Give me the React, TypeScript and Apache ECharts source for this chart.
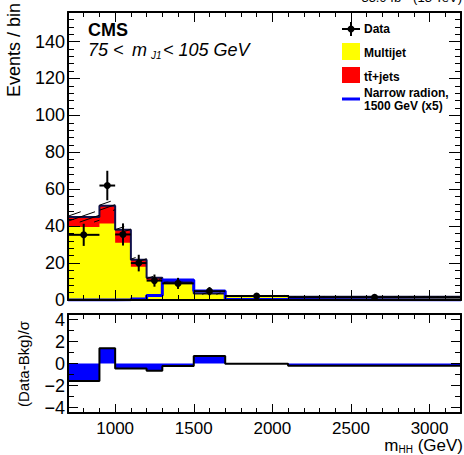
import React, { useEffect, useRef } from "react";
import * as echarts from "echarts";

const binEdges = [700, 900, 1000, 1100, 1200, 1300, 1500, 1700, 2100, 3200];
const multijet = [39.5, 41.5, 31, 18, 10.8, 9.2, 3.3, 2.0, 1.6];
const ttbar = [5.5, 9.5, 7, 3.8, 1.2, 0.5, 0.2, 0.2, 0.1];
const bkgUnc = [2.8, 2.5, 1.8, 1.2, 0.8, 0.6, 0.4, 0.3, 0.2];
const signalX5 = [0, 0, 0.1, 0.5, 2.5, 10.8, 4.9, 0.3, 0.05];
const dataCenters = [800, 950, 1050, 1150, 1250, 1400, 1600, 1900, 2650];
const dataCounts = [35.3, 62, 35.5, 20, 10.5, 9, 4.8, 2.2, 1.45];
const dataErrors = [6, 8, 6, 4.5, 3.3, 3, 2.2, 1.5, 1.2];
const pulls = [-1.6, 1.38, -0.45, -0.45, -0.65, -0.23, 0.68, -0.02, -0.2];

const xTickLabels = [1000, 1500, 2000, 2500, 3000];
const xMinorTicks = [800, 900, 1100, 1200, 1300, 1400, 1600, 1700, 1800, 1900, 2100, 2200, 2300, 2400, 2600, 2700, 2800, 2900, 3100];
const yTickLabels = [0, 20, 40, 60, 80, 100, 120, 140];
const yMinorTicks = [4, 8, 12, 16, 24, 28, 32, 36, 44, 48, 52, 56, 64, 68, 72, 76, 84, 88, 92, 96, 104, 108, 112, 116, 124, 128, 132, 136, 144, 148, 152];
const pullTickLabels = [-4, -2, 0, 2, 4];
const pullMinorTicks = [-3, -1, 1, 3];

const FONT = "Liberation Sans, Arial, Helvetica, sans-serif";

function stepPoints(vals: number[]) {
  const pts = vals.map((v, i) => [binEdges[i], v]);
  pts.push([binEdges[binEdges.length - 1], vals[vals.length - 1]]);
  return pts;
}

const totalBkg = multijet.map((v, i) => v + ttbar[i]);

const plainNum = (v: number) => (v < 0 ? "\u2212" + String(-v) : String(v));

function xAxisDef(gridIndex: number, position: string, ticks: number[], len: number, opts: any = {}) {
  return {
    type: "value",
    gridIndex,
    position,
    min: 700,
    max: 3200,
    z: 10,
    splitLine: { show: false },
    axisLine: { show: !!opts.line, onZero: false, lineStyle: { color: "#000", width: 2 } },
    axisTick: { show: true, inside: true, length: len, customValues: ticks, lineStyle: { color: "#000", width: 1 } },
    axisLabel: opts.labels
      ? { show: true, customValues: opts.labels, color: "#000", fontFamily: FONT, fontSize: 17, margin: 7, formatter: plainNum }
      : { show: false },
  };
}

function yAxisDef(gridIndex: number, position: string, min: number, max: number, ticks: number[], len: number, opts: any = {}) {
  return {
    type: "value",
    gridIndex,
    position,
    min,
    max,
    z: 10,
    splitLine: { show: false },
    axisLine: { show: !!opts.line, onZero: false, lineStyle: { color: "#000", width: 2 } },
    axisTick: { show: true, inside: true, length: len, customValues: ticks, lineStyle: { color: "#000", width: 1 } },
    axisLabel: opts.labels
      ? { show: true, customValues: opts.labels, color: "#000", fontFamily: FONT, fontSize: 18, margin: 3, formatter: plainNum }
      : { show: false },
  };
}

const hatchData = totalBkg.map((t, i) => [binEdges[i], binEdges[i + 1], t - bkgUnc[i], t + bkgUnc[i]]);
const dataRows = dataCenters.map((x, i) => [x, dataCounts[i], binEdges[i], binEdges[i + 1], dataErrors[i]]);

function buildOption(): any {
  return {
    animation: false,
    grid: [
      { left: 68, top: 12, width: 393, height: 288 },
      { left: 68, top: 314, width: 393, height: 99 },
    ],
    xAxis: [
      xAxisDef(0, "bottom", xTickLabels, 10, { line: true }),
      xAxisDef(0, "bottom", xMinorTicks, 5),
      xAxisDef(0, "top", xTickLabels, 10, { line: true }),
      xAxisDef(0, "top", xMinorTicks, 5),
      xAxisDef(1, "bottom", xTickLabels, 9, { line: true, labels: xTickLabels }),
      xAxisDef(1, "bottom", xMinorTicks, 5),
      xAxisDef(1, "top", xTickLabels, 9, { line: true }),
      xAxisDef(1, "top", xMinorTicks, 5),
    ],
    yAxis: [
      yAxisDef(0, "left", 0, 156, yTickLabels, 12, { line: true, labels: yTickLabels }),
      yAxisDef(0, "left", 0, 156, yMinorTicks, 6),
      yAxisDef(0, "right", 0, 156, yTickLabels, 12, { line: true }),
      yAxisDef(0, "right", 0, 156, yMinorTicks, 6),
      yAxisDef(1, "left", -4.5, 4.5, pullTickLabels, 10, { line: true, labels: pullTickLabels }),
      yAxisDef(1, "left", -4.5, 4.5, pullMinorTicks, 6),
      yAxisDef(1, "right", -4.5, 4.5, pullTickLabels, 10, { line: true }),
      yAxisDef(1, "right", -4.5, 4.5, pullMinorTicks, 6),
    ],
    series: [
      {
        name: "ttbar",
        type: "line",
        xAxisIndex: 0,
        yAxisIndex: 0,
        step: "end",
        symbol: "none",
        data: stepPoints(totalBkg),
        lineStyle: { width: 0 },
        areaStyle: { color: "#ff0000", opacity: 1 },
        z: 2,
      },
      {
        name: "Multijet",
        type: "line",
        xAxisIndex: 0,
        yAxisIndex: 0,
        step: "end",
        symbol: "none",
        data: stepPoints(multijet),
        lineStyle: { width: 0 },
        areaStyle: { color: "#ffff00", opacity: 1 },
        z: 3,
      },
      {
        name: "Total",
        type: "line",
        xAxisIndex: 0,
        yAxisIndex: 0,
        step: "end",
        symbol: "none",
        data: stepPoints(totalBkg),
        lineStyle: { width: 2, color: "#10104a" },
        z: 4,
      },
      {
        name: "Uncertainty",
        type: "custom",
        xAxisIndex: 0,
        yAxisIndex: 0,
        clip: true,
        z: 5,
        encode: { x: [0, 1], y: [2, 3] },
        data: hatchData,
        renderItem: (params: any, api: any) => {
          const x0 = api.value(0), x1 = api.value(1), lo = api.value(2), hi = api.value(3);
          const a = api.coord([x0, hi]);
          const b = api.coord([x1, lo]);
          const L = a[0], R = b[0], T = a[1], B = b[1];
          const k = 0.35, s = 5;
          const children: any[] = [];
          const cStart = T + k * L;
          const cEnd = B + k * R;
          for (let c = Math.ceil(cStart / s) * s; c <= cEnd; c += s) {
            const xa = Math.max(L, (c - B) / k);
            const xb = Math.min(R, (c - T) / k);
            if (xb > xa) {
              children.push({
                type: "line",
                shape: { x1: xa, y1: c - k * xa, x2: xb, y2: c - k * xb },
                style: { stroke: "#000", lineWidth: 1 },
              });
            }
          }
          return { type: "group", children };
        },
      },
      {
        name: "Signal",
        type: "line",
        xAxisIndex: 0,
        yAxisIndex: 0,
        step: "end",
        symbol: "none",
        data: stepPoints(signalX5),
        lineStyle: { width: 3, color: "#0000ff" },
        z: 6,
      },
      {
        name: "Data",
        type: "custom",
        xAxisIndex: 0,
        yAxisIndex: 0,
        clip: true,
        z: 8,
        encode: { x: 0, y: 1 },
        data: dataRows,
        renderItem: (params: any, api: any) => {
          const x = api.value(0), y = api.value(1), xl = api.value(2), xh = api.value(3), e = api.value(4);
          const c = api.coord([x, y]);
          const l = api.coord([xl, y]);
          const r = api.coord([xh, y]);
          const t = api.coord([x, y + e]);
          const bt = api.coord([x, Math.max(0, y - e)]);
          return {
            type: "group",
            children: [
              { type: "line", shape: { x1: l[0], y1: c[1], x2: r[0], y2: c[1] }, style: { stroke: "#000", lineWidth: 2 } },
              { type: "line", shape: { x1: c[0], y1: t[1], x2: c[0], y2: bt[1] }, style: { stroke: "#000", lineWidth: 2 } },
              { type: "circle", shape: { cx: c[0], cy: c[1], r: 3.5 }, style: { fill: "#000" } },
            ],
          };
        },
      },
      {
        name: "Pull fill",
        type: "line",
        xAxisIndex: 4,
        yAxisIndex: 4,
        step: "end",
        symbol: "none",
        data: stepPoints(pulls),
        lineStyle: { width: 2, color: "#000" },
        areaStyle: { color: "#0000ff", opacity: 1, origin: 0 },
        z: 3,
      },
    ],
    graphic: [
      {
        type: "text",
        x: 462,
        y: 4,
        style: { text: "35.9 fb\u207B\u00B9 (13 TeV)", font: `13px ${FONT}`, fill: "#000", align: "right", verticalAlign: "bottom" },
        z: 20,
      },
      {
        type: "text",
        x: 14,
        y: 50,
        rotation: Math.PI / 2,
        style: { text: "Events / bin", font: `18px ${FONT}`, fill: "#000", align: "center", verticalAlign: "middle" },
        z: 20,
      },
      {
        type: "text",
        x: 23,
        y: 364,
        rotation: Math.PI / 2,
        style: { text: "(Data-Bkg)/\u03C3", font: `15px ${FONT}`, fill: "#000", align: "center", verticalAlign: "middle" },
        z: 20,
      },
      {
        type: "text",
        x: 463,
        y: 454,
        style: {
          text: "{m|m}{s|HH}{m| (GeV)}",
          align: "right",
          verticalAlign: "bottom",
          rich: {
            m: { font: `17px ${FONT}`, fill: "#000", verticalAlign: "bottom", lineHeight: 17 },
            s: { font: `10px ${FONT}`, fill: "#000", verticalAlign: "bottom", lineHeight: 17 },
          },
        },
        z: 20,
      },
      {
        type: "text",
        x: 88,
        y: 30,
        style: { text: "CMS", font: `bold 18px ${FONT}`, fill: "#000", align: "left", verticalAlign: "middle" },
        z: 20,
      },
      {
        type: "text",
        x: 88,
        y: 50,
        style: { text: "75 <", font: `italic 18px ${FONT}`, fill: "#000", align: "left", verticalAlign: "middle" },
        z: 20,
      },
      {
        type: "text",
        x: 132,
        y: 50,
        style: { text: "m", font: `italic 18px ${FONT}`, fill: "#000", align: "left", verticalAlign: "middle" },
        z: 20,
      },
      {
        type: "text",
        x: 151,
        y: 55,
        style: { text: "J1", font: `italic 10px ${FONT}`, fill: "#000", align: "left", verticalAlign: "middle" },
        z: 20,
      },
      {
        type: "text",
        x: 163,
        y: 50,
        style: { text: "< 105 GeV", font: `italic 18px ${FONT}`, fill: "#000", align: "left", verticalAlign: "middle" },
        z: 20,
      },
      // Legend: Data
      { type: "line", shape: { x1: 342, y1: 29, x2: 360, y2: 29 }, style: { stroke: "#000", lineWidth: 2 }, z: 20 },
      { type: "line", shape: { x1: 351, y1: 22, x2: 351, y2: 36 }, style: { stroke: "#000", lineWidth: 2 }, z: 20 },
      { type: "circle", shape: { cx: 351, cy: 29, r: 3.5 }, style: { fill: "#000" }, z: 20 },
      { type: "text", x: 364, y: 29, style: { text: "Data", font: `bold 12px ${FONT}`, fill: "#000", verticalAlign: "middle" }, z: 20 },
      // Legend: Multijet
      { type: "rect", shape: { x: 342, y: 43, width: 18, height: 17 }, style: { fill: "#ffff00" }, z: 20 },
      { type: "text", x: 364, y: 53, style: { text: "Multijet", font: `bold 12px ${FONT}`, fill: "#000", verticalAlign: "middle" }, z: 20 },
      // Legend: ttbar
      { type: "rect", shape: { x: 342, y: 67, width: 18, height: 16 }, style: { fill: "#ff0000" }, z: 20 },
      { type: "text", x: 364, y: 77, style: { text: "tt\u0304+jets", font: `bold 12px ${FONT}`, fill: "#000", verticalAlign: "middle" }, z: 20 },
      // Legend: signal
      { type: "line", shape: { x1: 342, y1: 99, x2: 360, y2: 99 }, style: { stroke: "#0000ff", lineWidth: 3 }, z: 20 },
      { type: "text", x: 364, y: 93, style: { text: "Narrow radion,", font: `bold 12px ${FONT}`, fill: "#000", verticalAlign: "middle" }, z: 20 },
      { type: "text", x: 364, y: 106, style: { text: "1500 GeV (x5)", font: `bold 12px ${FONT}`, fill: "#000", verticalAlign: "middle" }, z: 20 },
    ],
  };
}

export default function App() {
  const ref = useRef<HTMLDivElement>(null);
  useEffect(() => {
    if (!ref.current) return;
    const chart = echarts.init(ref.current, null, { renderer: "svg" });
    chart.setOption(buildOption());
    return () => chart.dispose();
  }, []);
  return <div ref={ref} style={{ position: "fixed", left: 0, top: 0, width: 464, height: 455, background: "#fff" }} />;
}
